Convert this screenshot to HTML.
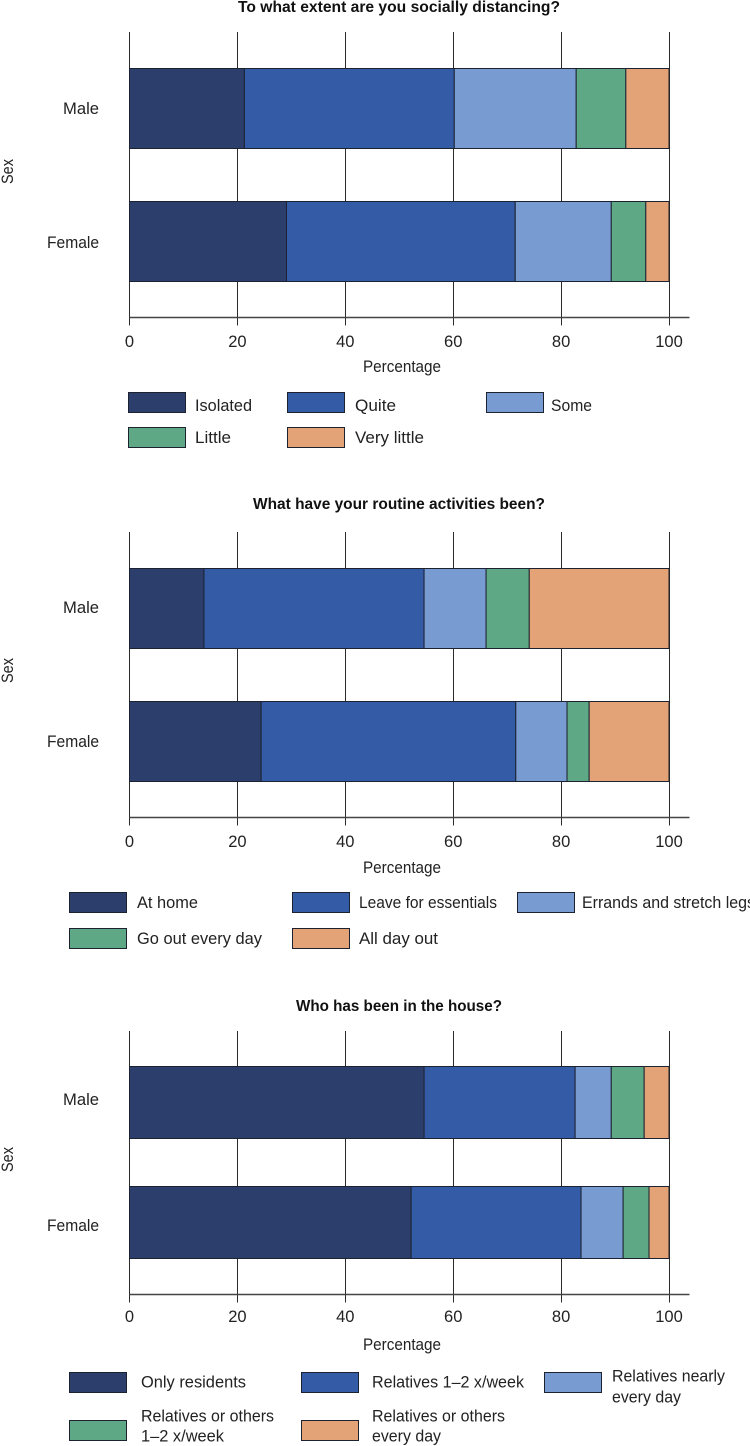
<!DOCTYPE html>
<html lang="en">
<head>
<meta charset="utf-8">
<title>Social distancing charts</title>
<style>
html,body{margin:0;padding:0;background:#fff;width:750px;height:1446px;overflow:hidden}
svg{display:block}
text{font-family:"Liberation Sans",sans-serif;font-size:17px;fill:#222}
.title{font-weight:bold;font-size:16px;fill:#111}
.swatch{stroke:#1c2230;stroke-width:1}
</style>
</head>
<body>
<svg id="figure" width="750" height="1446" viewBox="0 0 750 1446" xmlns="http://www.w3.org/2000/svg">

<g>
  <text class="title" x="238" y="12" textLength="322" lengthAdjust="spacingAndGlyphs">To what extent are you socially distancing?</text>
  <g id="chart1"></g>
  <text x="363" y="372" textLength="78" lengthAdjust="spacingAndGlyphs">Percentage</text>
  <text transform="translate(13,184) rotate(-90)" textLength="25" lengthAdjust="spacingAndGlyphs">Sex</text>
  <g>
    <g><rect class="swatch" x="128.5" y="392.5" width="57" height="20" fill="#2c3e6b"/><text x="195" y="411" textLength="57" lengthAdjust="spacingAndGlyphs">Isolated</text></g>
    <g><rect class="swatch" x="287.5" y="392.5" width="57" height="20" fill="#335ba6"/><text x="355" y="411" textLength="41" lengthAdjust="spacingAndGlyphs">Quite</text></g>
    <g><rect class="swatch" x="486.5" y="392.5" width="57" height="20" fill="#789bd1"/><text x="551" y="411" textLength="41" lengthAdjust="spacingAndGlyphs">Some</text></g>
    <g><rect class="swatch" x="128.5" y="427.5" width="57" height="20" fill="#5fa885"/><text x="195" y="443" textLength="36" lengthAdjust="spacingAndGlyphs">Little</text></g>
    <g><rect class="swatch" x="287.5" y="427.5" width="57" height="20" fill="#e3a376"/><text x="355" y="443" textLength="69" lengthAdjust="spacingAndGlyphs">Very little</text></g>
  </g>
</g>

<g>
  <text class="title" x="253" y="509" textLength="292" lengthAdjust="spacingAndGlyphs">What have your routine activities been?</text>
  <g id="chart2"></g>
  <text x="363" y="873" textLength="78" lengthAdjust="spacingAndGlyphs">Percentage</text>
  <text transform="translate(13,683) rotate(-90)" textLength="25" lengthAdjust="spacingAndGlyphs">Sex</text>
  <g>
    <g><rect class="swatch" x="69.5" y="892.5" width="57" height="20" fill="#2c3e6b"/><text x="137" y="908" textLength="61" lengthAdjust="spacingAndGlyphs">At home</text></g>
    <g><rect class="swatch" x="292.5" y="892.5" width="57" height="20" fill="#335ba6"/><text x="359" y="908" textLength="138" lengthAdjust="spacingAndGlyphs">Leave for essentials</text></g>
    <g><rect class="swatch" x="517.5" y="892.5" width="57" height="20" fill="#789bd1"/><text x="582" y="908" textLength="173" lengthAdjust="spacingAndGlyphs">Errands and stretch legs</text></g>
    <g><rect class="swatch" x="69.5" y="928.5" width="57" height="20" fill="#5fa885"/><text x="137" y="944" textLength="125" lengthAdjust="spacingAndGlyphs">Go out every day</text></g>
    <g><rect class="swatch" x="292.5" y="928.5" width="57" height="20" fill="#e3a376"/><text x="359" y="944" textLength="79" lengthAdjust="spacingAndGlyphs">All day out</text></g>
  </g>
</g>

<g>
  <text class="title" x="296" y="1011" textLength="206" lengthAdjust="spacingAndGlyphs">Who has been in the house?</text>
  <g id="chart3"></g>
  <text x="363" y="1350" textLength="78" lengthAdjust="spacingAndGlyphs">Percentage</text>
  <text transform="translate(13,1172) rotate(-90)" textLength="25" lengthAdjust="spacingAndGlyphs">Sex</text>
  <g>
    <g><rect class="swatch" x="69.5" y="1372.5" width="57" height="20" fill="#2c3e6b"/><text x="141" y="1387.5" textLength="105" lengthAdjust="spacingAndGlyphs">Only residents</text></g>
    <g><rect class="swatch" x="301.5" y="1372.5" width="57" height="20" fill="#335ba6"/><text x="372" y="1387.5" textLength="152" lengthAdjust="spacingAndGlyphs">Relatives 1–2 x/week</text></g>
    <g><rect class="swatch" x="544.5" y="1372.5" width="57" height="20" fill="#789bd1"/><text x="612" y="1381.5" textLength="113" lengthAdjust="spacingAndGlyphs">Relatives nearly</text><text x="612" y="1402.5" textLength="69" lengthAdjust="spacingAndGlyphs">every day</text></g>
    <g><rect class="swatch" x="69.5" y="1420.5" width="57" height="20" fill="#5fa885"/><text x="141" y="1421.5" textLength="133" lengthAdjust="spacingAndGlyphs">Relatives or others</text><text x="141" y="1441.5" textLength="83" lengthAdjust="spacingAndGlyphs">1–2 x/week</text></g>
    <g><rect class="swatch" x="301.5" y="1420.5" width="57" height="20" fill="#e3a376"/><text x="372" y="1421.5" textLength="133" lengthAdjust="spacingAndGlyphs">Relatives or others</text><text x="372" y="1441.5" textLength="69" lengthAdjust="spacingAndGlyphs">every day</text></g>
  </g>
</g>
</svg>

<script>
const categories = ['Male', 'Female'];
const tickValues = [0, 20, 40, 60, 80, 100];
const segmentColors = ['#2c3e6b', '#335ba6', '#789bd1', '#5fa885', '#e3a376'];

const distancingMale = [21.3, 38.9, 22.6, 9.2, 8.0];
const distancingFemale = [29.1, 42.4, 17.8, 6.4, 4.3];

const routineMale = [13.8, 40.8, 11.5, 8.0, 25.9];
const routineFemale = [24.4, 47.2, 9.5, 4.1, 14.8];

const houseMale = [54.6, 28.0, 6.7, 6.1, 4.6];
const houseFemale = [52.2, 31.5, 7.8, 4.8, 3.7];

const SVG_NS = 'http://www.w3.org/2000/svg';

function xScale(value) {
  return 129.5 + value * 5.395;
}

function makeEl(parent, tag, props) {
  const el = document.createElementNS(SVG_NS, tag);
  for (const key in props) el.setAttribute(key, props[key]);
  parent.appendChild(el);
  return el;
}

function drawChart(groupId, prefix, plotTop, axisY, barStart, barHeight, barStep, tickBaseline, maleBaseline, femaleBaseline, seriesByCategory) {
  const group = document.getElementById(groupId);
  const yBand = function (index) { return barStart + index * barStep; };

  tickValues.forEach(function (tick) {
    const x = Math.floor(xScale(tick)) + 0.5;
    const grid = makeEl(group, 'line', { x1: x, x2: x, y1: plotTop, y2: axisY + 8.5, stroke: '#2b2b2b', 'stroke-width': 1 });
    
    

    const label = makeEl(group, 'text', { x: xScale(tick), y: tickBaseline, 'text-anchor': 'middle', textLength: String(tick).length * 9.2, lengthAdjust: 'spacingAndGlyphs' });
    label.textContent = tick;
    
    
  });

  const axis = makeEl(group, 'line', { x1: xScale(0), x2: 689.5, y1: axisY + 0.5, y2: axisY + 0.5, stroke: '#444', 'stroke-width': 1.4 });
  
  

  categories.forEach(function (category, catIndex) {
    const top = yBand(catIndex);
    const label = makeEl(group, 'text', { x: 99, y: catIndex === 0 ? maleBaseline : femaleBaseline, 'text-anchor': 'end', textLength: category.length === 4 ? 36 : 52, lengthAdjust: 'spacingAndGlyphs' });
    label.textContent = category;
    
    

    let cumulative = 0;
    seriesByCategory[catIndex].forEach(function (value, segIndex) {
      const x0 = xScale(cumulative);
      const x1 = xScale(cumulative + value);
      const bar = makeEl(group, 'rect', { x: x0, y: top + 0.5, width: x1 - x0, height: barHeight, fill: segmentColors[segIndex], stroke: '#1c2230', 'stroke-width': 1 });
      
      
      cumulative += value;
    });
  });
}

drawChart('chart1', 'distancing', 32, 317, 68, 80, 133, 347, 114, 248, [distancingMale, distancingFemale]);
drawChart('chart2', 'routine', 532, 817, 568, 80, 133, 847, 613, 747, [routineMale, routineFemale]);
drawChart('chart3', 'house', 1031, 1294, 1066, 72, 120, 1322, 1105, 1231, [houseMale, houseFemale]);
</script>
</body>
</html>
